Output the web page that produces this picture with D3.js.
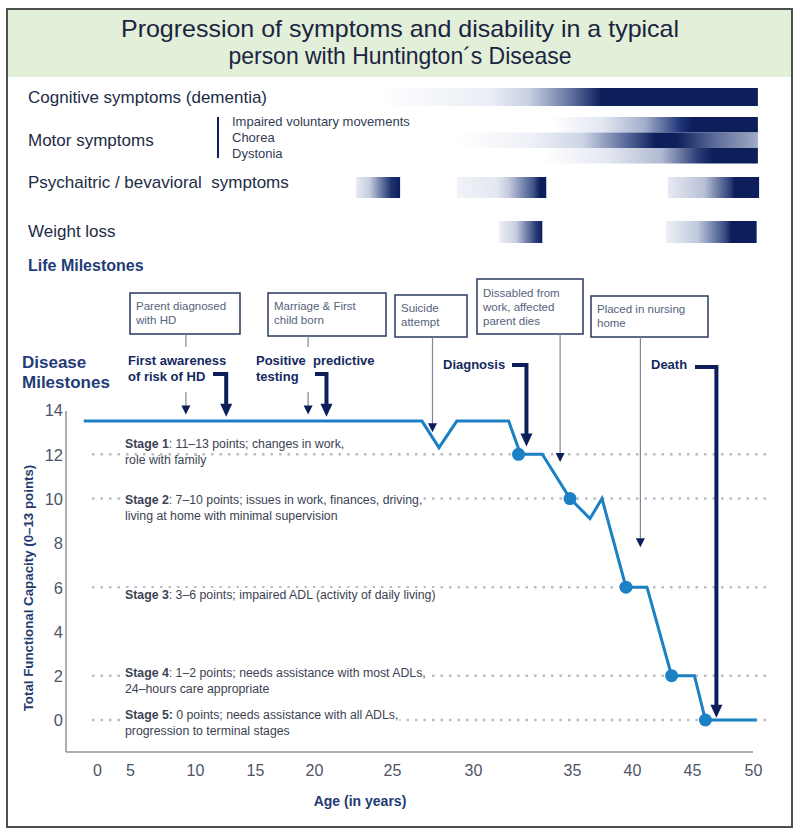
<!DOCTYPE html>
<html><head><meta charset="utf-8">
<script src="https://cdn.jsdelivr.net/npm/d3@7"></script>
<style>body{margin:0;background:#fff} svg{display:block} text{font-family:"Liberation Sans",Arial,sans-serif}</style>
</head><body><svg id="c" width="800" height="836"></svg>
<script>
// ---------------- DATA ----------------
const titleLines = ["Progression of symptoms and disability in a typical", "person with Huntington´s Disease"];
const xTickAges = [0, 5, 10, 15, 20, 25, 30, 35, 40, 45, 50];
const yTickValues = [0, 2, 4, 6, 8, 10, 12, 14];
const xTitle = "Age (in years)";
const yTitle = "Total Functional Capacity (0–13 points)";

// Total functional capacity curve
const tfcAges   = [-2, 26.85, 27.9, 29.0, 31.8, 32.4, 33.5, 34.9, 36.5, 37.5, 39.5, 41.25, 43.3, 45.2, 46.1, 50.3];
const tfcValues = [13.5, 13.5, 12.3, 13.5, 13.5, 12, 12, 10, 9.1, 10, 6, 6, 2, 2, 0, 0];
const stageDotAges   = [32.3, 34.9, 39.5, 43.3, 46.1];
const stageDotValues = [12, 10, 6, 2, 0];

// Stages
const stageLevels = [12, 10, 6, 2, 0];
const stageBold = ["Stage 1", "Stage 2", "Stage 3", "Stage 4", "Stage 5:"];
const stageRest = [": 11–13 points; changes in work,", ": 7–10 points; issues in work, finances, driving,", ": 3–6 points; impaired ADL (activity of daily living)", ": 1–2 points; needs assistance with most ADLs,", " 0 points; needs assistance with all ADLs,"];
const stageLine2 = ["role with family", "living at home with minimal supervision", "", "24–hours care appropriate", "progression to terminal stages"];

// Symptoms (age ranges of the shaded bars)
const symptomLabels = ["Cognitive symptoms (dementia)", "Motor symptoms", "Psychaitric / bevavioral  symptoms", "Weight loss"];
const motorSubLabels = ["Impaired voluntary movements", "Chorea", "Dystonia"];
const cognitiveBar = [24.0, 50.4];
const motorBars = [[34.0, 50.4], [29.0, 50.4], [33.5, 50.4]];
const psychBars = [[22.7, 25.5], [29.0, 33.7], [43.0, 50.5]];
const weightBars = [[31.3, 33.5], [42.8, 50.3]];

// Milestones
const lifeMilestones = [["Parent diagnosed", "with HD"], ["Marriage & First", "child born"], ["Suicide", "attempt"], ["Dissabled from", "work, affected", "parent dies"], ["Placed in nursing", "home"]];
const lifeAges = [9.3, 19.5, 27.5, 34.4, 40.7];
const lifeTipValues = [13.8, 13.8, 13.0, 11.65, 7.8];
const diseaseMilestones = [["First awareness", "of risk of HD"], ["Positive  predictive", "testing"], ["Diagnosis"], ["Death"]];
const diseaseAges = [12.6, 20.8, 32.7, 47.0];
const diseaseTipValues = [13.7, 13.7, 12.35, 0.1];

// ---------------- LAYOUT / STYLE ----------------
const NAVY = "#0c1f5b";
const xTickPx = [97, 130, 195, 255, 314, 392, 473, 572, 632, 692, 753];
const x = d3.scaleLinear().domain(xTickAges).range(xTickPx);
const y = d3.scaleLinear().domain([0, 14]).range([720, 410]);

const svg = d3.select("#c");
const defs = svg.append("defs");

// frame & title band
svg.append("rect").attr("x", 7).attr("y", 9).attr("width", 785).attr("height", 68).attr("fill", "#e2efd9");
svg.append("rect").attr("x", 7).attr("y", 9).attr("width", 785).attr("height", 818)
  .attr("fill", "none").attr("stroke", "#4d4d4d").attr("stroke-width", 2);
const titleW = [558, 343];
titleLines.forEach((t, i) => {
  svg.append("text").attr("x", 400).attr("y", 37 + i * 27).attr("text-anchor", "middle")
    .attr("font-size", 24).attr("fill", "#1b2440")
    .attr("textLength", titleW[i]).attr("lengthAdjust", "spacingAndGlyphs").text(t);
});

// gradients
let gid = 0;
function gradBar(a, b, y0, h, stops) {
  const id = "g" + (gid++);
  const g = defs.append("linearGradient").attr("id", id).attr("x1", 0).attr("x2", 1).attr("y1", 0).attr("y2", 0);
  stops.forEach(s => g.append("stop").attr("offset", s[0]).attr("stop-color", s[1]));
  svg.append("rect").attr("x", x(a)).attr("y", y0).attr("width", x(b) - x(a)).attr("height", h)
    .attr("fill", `url(#${id})`);
}
const labelFont = 17, labelColor = "#222c46";
// Cognitive
svg.append("text").attr("x", 28).attr("y", 103).attr("font-size", labelFont).attr("fill", labelColor).text(symptomLabels[0]);
gradBar(cognitiveBar[0], cognitiveBar[1], 88, 18, [[0, "#ffffff"], [0.3, "#e9edf5"], [0.4, "#c8d0e2"], [0.5, "#6a7ba6"], [0.59, NAVY], [1, NAVY]]);
// Motor
svg.append("text").attr("x", 28).attr("y", 146).attr("font-size", labelFont).attr("fill", labelColor).text(symptomLabels[1]);
svg.append("line").attr("x1", 218).attr("x2", 218).attr("y1", 117).attr("y2", 158).attr("stroke", NAVY).attr("stroke-width", 2);
motorSubLabels.forEach((t, i) => svg.append("text").attr("x", 232).attr("y", 126 + i * 16).attr("font-size", 13).attr("fill", "#333c55").text(t));
const motorStops = [
  [[0, "#ffffff"], [0.25, "#e1e6f0"], [0.45, "#a3aecb"], [0.62, "#22377a"], [0.68, NAVY], [1, NAVY]],
  [[0, "#ffffff"], [0.25, "#edf0f6"], [0.42, "#cdd4e5"], [0.56, "#5a6c9c"], [0.66, NAVY], [0.73, NAVY], [0.86, "#5d6d9a"], [1, "#a2abc6"]],
  [[0, "#ffffff"], [0.3, "#e4e8f1"], [0.55, "#b1bbd3"], [0.72, "#2b3e78"], [0.79, NAVY], [1, NAVY]]
];
motorBars.forEach((b, i) => gradBar(b[0], b[1], 117 + i * 15.5, 15.5, motorStops[i]));
// Psych
svg.append("text").attr("x", 28).attr("y", 188).attr("font-size", labelFont).attr("fill", labelColor).attr("xml:space", "preserve").text(symptomLabels[2]);
const psychStops = [
  [[0, "#e6eaf3"], [0.3, "#c6cee1"], [0.8, "#1d3270"], [1, NAVY]],
  [[0, "#f1f3f8"], [0.45, "#e3e7f0"], [0.58, "#c3cbde"], [0.85, "#44578e"], [0.93, NAVY], [1, NAVY]],
  [[0, "#e6eaf2"], [0.4, "#b7c0d6"], [0.68, "#2e417a"], [0.73, NAVY], [1, NAVY]]
];
psychBars.forEach((b, i) => gradBar(b[0], b[1], 177, 21, psychStops[i]));
// Weight
svg.append("text").attr("x", 28).attr("y", 237).attr("font-size", labelFont).attr("fill", labelColor).text(symptomLabels[3]);
const weightStops = [
  [[0, "#eef1f7"], [0.4, "#c5cde0"], [0.85, "#2a3d78"], [1, NAVY]],
  [[0, "#eef1f7"], [0.35, "#c0c9dd"], [0.65, "#3a4d85"], [0.72, NAVY], [1, NAVY]]
];
weightBars.forEach((b, i) => gradBar(b[0], b[1], 221, 22, weightStops[i]));

// section headings
svg.append("text").attr("x", 28).attr("y", 271).attr("font-size", 16).attr("font-weight", "bold").attr("fill", "#1f3c78").text("Life Milestones");
svg.append("text").attr("x", 22).attr("y", 368).attr("font-size", 17).attr("font-weight", "bold").attr("fill", "#1f3c78").text("Disease");
svg.append("text").attr("x", 22).attr("y", 388).attr("font-size", 17).attr("font-weight", "bold").attr("fill", "#1f3c78").text("Milestones");

// axes lines
svg.append("line").attr("x1", 66).attr("x2", 66).attr("y1", 411).attr("y2", 752).attr("stroke", "#8e939c").attr("stroke-width", 1.5);
svg.append("line").attr("x1", 66).attr("x2", 753).attr("y1", 752).attr("y2", 752).attr("stroke", "#8e939c").attr("stroke-width", 1.5);

const yAxis = svg.append("g").attr("transform", "translate(64,0)")
  .call(d3.axisLeft(y).tickValues(yTickValues).tickSize(0).tickPadding(1));
yAxis.select(".domain").remove();
yAxis.selectAll("text").attr("font-size", 16.5).attr("fill", "#4d5566").attr("font-family", "Liberation Sans, Arial, sans-serif").attr("dy", "0.36em");

const xAxis = svg.append("g").attr("transform", "translate(0,752)")
  .call(d3.axisBottom(x).tickValues(xTickAges).tickSize(0).tickPadding(13));
xAxis.select(".domain").remove();
xAxis.selectAll("text").attr("font-size", 16).attr("fill", "#4d5566").attr("font-family", "Liberation Sans, Arial, sans-serif");

svg.append("text").attr("x", 360).attr("y", 806).attr("text-anchor", "middle").attr("font-size", 14).attr("font-weight", "bold").attr("fill", "#1f3a72").text(xTitle);
svg.append("text").attr("transform", "translate(33,588) rotate(-90)").attr("text-anchor", "middle").attr("font-size", 13.3).attr("font-weight", "bold").attr("fill", "#1f3a72").text(yTitle);

// dotted stage lines
stageLevels.forEach(v => {
  svg.append("line").attr("x1", 92).attr("x2", 767).attr("y1", y(v)).attr("y2", y(v))
    .attr("stroke", "#b9bdc5").attr("stroke-width", 2.5).attr("stroke-dasharray", "2.5 6");
});

// stage texts
const stageBase = [448, 504, 599, 677, 719];
stageLevels.forEach((v, i) => {
  const t = svg.append("text").attr("x", 125).attr("y", stageBase[i]).attr("font-size", 12.3).attr("fill", "#3c4254");
  t.append("tspan").attr("font-weight", "bold").text(stageBold[i]);
  t.append("tspan").text(stageRest[i]);
  const bb = t.node().getBBox();
  svg.insert("rect", function () { return t.node(); }).attr("x", bb.x - 1).attr("y", bb.y).attr("width", bb.width + 2).attr("height", bb.height).attr("fill", "#fff");
  if (stageLine2[i]) svg.append("text").attr("x", 125).attr("y", stageBase[i] + 16).attr("font-size", 12.3).attr("fill", "#3c4254").text(stageLine2[i]);
});

// TFC line
const pts = tfcAges.map((a, i) => [x(a), y(tfcValues[i])]);
svg.append("path").attr("d", d3.line()(pts)).attr("fill", "none").attr("stroke", "#1b80c4").attr("stroke-width", 3).attr("stroke-linejoin", "miter");
stageDotAges.forEach((a, i) => svg.append("circle").attr("cx", x(a)).attr("cy", y(stageDotValues[i])).attr("r", 6.5).attr("fill", "#1b80c4"));

// arrowheads
function head(cx, tipY, w, h, color) {
  svg.append("path").attr("d", `M${cx - w / 2},${tipY - h} L${cx + w / 2},${tipY - h} L${cx},${tipY} Z`).attr("fill", color);
}

// life milestone boxes
const boxes = [[130, 293, 110, 41], [268, 293, 118, 43], [395, 295, 72, 42], [477, 279, 106, 55], [591, 296, 117, 41]];
lifeMilestones.forEach((lines, i) => {
  const [bx, by, bw, bh] = boxes[i];
  svg.append("rect").attr("x", bx).attr("y", by).attr("width", bw).attr("height", bh).attr("fill", "#fff").attr("stroke", "#2a3760").attr("stroke-width", 1.5);
  const first = bh > 50 ? by + 18 : by + 17;
  lines.forEach((l, j) => svg.append("text").attr("x", bx + 6).attr("y", first + j * 14).attr("font-size", 11.5).attr("fill", "#55627c").text(l));
  const ax = x(lifeAges[i]);
  const tip = y(lifeTipValues[i]);
  if (i < 2) {
    svg.append("line").attr("x1", ax).attr("x2", ax).attr("y1", by + bh).attr("y2", 347).attr("stroke", "#7f8899").attr("stroke-width", 1.2);
    svg.append("line").attr("x1", ax).attr("x2", ax).attr("y1", 392).attr("y2", tip - 6).attr("stroke", "#7f8899").attr("stroke-width", 1.2);
  } else {
    svg.append("line").attr("x1", ax).attr("x2", ax).attr("y1", by + bh).attr("y2", tip - 6).attr("stroke", "#7f8899").attr("stroke-width", 1.2);
  }
  head(ax, tip, 9, 9, NAVY);
});

// disease milestones
const dLayout = [[128, 365, 213, 374], [256, 365, 315, 374], [443, 369, 512, 365], [651, 369, 695, 367]];
diseaseMilestones.forEach((lines, i) => {
  const [tx, ty, hx, hy] = dLayout[i];
  lines.forEach((l, j) => svg.append("text").attr("x", tx).attr("y", ty + j * 16).attr("font-size", 13).attr("font-weight", "bold").attr("fill", "#15295e").attr("xml:space", "preserve").text(l));
  const ax = x(diseaseAges[i]);
  const tip = y(diseaseTipValues[i]);
  svg.append("path").attr("d", `M${hx},${hy} L${ax},${hy} L${ax},${tip - 10}`).attr("fill", "none").attr("stroke", NAVY).attr("stroke-width", 4).attr("stroke-linejoin", "miter");
  head(ax, tip, 12, 13, NAVY);
});
</script></body></html>
